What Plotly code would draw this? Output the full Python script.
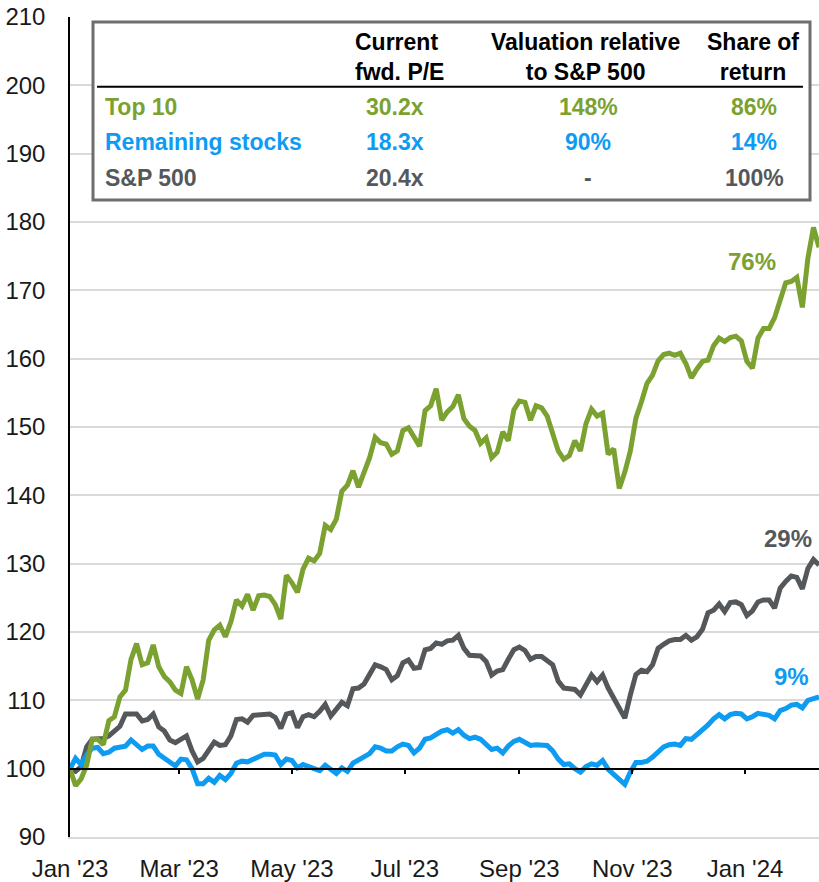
import pandas as pd
import plotly.graph_objects as go

# ---------------- data ----------------
start_date = "2023-01-01"
end_date = "2024-02-10"
dates = pd.date_range(start_date, periods=136, freq="3D")

top10 = [100.0, 97.5, 98.5, 100.5, 104.3, 104.3, 103.5, 107.0, 107.6, 110.5,
         111.5, 116.0, 118.3, 115.2, 115.5, 118.1, 114.9, 113.5, 112.7, 111.5,
         111.0, 114.9, 113.0, 110.2, 113.0, 118.8, 120.3, 121.0, 119.3, 121.5,
         124.7, 123.8, 125.5, 123.2, 125.3, 125.4, 125.2, 124.0, 121.9, 128.3,
         127.2, 125.8, 129.2, 130.8, 130.4, 131.5, 135.6, 135.0, 136.5, 140.6,
         141.5, 143.6, 141.2, 143.3, 145.5, 148.5, 147.7, 147.5, 146.0, 146.5,
         149.5, 149.9, 148.7, 147.2, 152.4, 153.1, 155.6, 151.0, 152.2, 153.0,
         154.7, 151.2, 150.1, 149.5, 147.6, 148.4, 145.5, 146.3, 149.3, 148.0,
         152.5, 153.8, 153.6, 151.0, 153.1, 152.8, 151.6, 149.0, 146.5, 145.3,
         145.8, 148.0, 146.5, 150.5, 152.6, 151.6, 152.0, 146.0, 146.8, 141.0,
         143.4, 146.5, 151.3, 153.7, 156.4, 157.6, 159.7, 160.6, 160.8, 160.5,
         160.8, 159.3, 157.2, 158.5, 159.6, 159.8, 161.9, 163.0, 162.5, 163.1,
         163.3, 162.6, 159.6, 158.6, 163.0, 164.4, 164.4, 166.0, 168.5, 171.1,
         171.3, 171.9, 167.5, 174.7, 179.2, 176.3]

remaining = [100.0, 101.5, 100.6, 102.0, 103.0, 103.1, 102.2, 102.4, 103.0, 103.1,
             103.3, 104.2, 103.6, 102.8, 103.3, 103.3, 102.1, 101.6, 100.9, 100.4,
             101.4, 101.3, 100.0, 97.8, 97.8, 98.6, 98.0, 99.0, 98.4, 99.3,
             100.8, 101.1, 101.0, 101.4, 101.8, 102.1, 102.1, 102.0, 100.6, 101.4,
             101.2, 100.1, 100.6, 100.3, 99.9, 99.7, 100.5, 99.9, 99.3, 100.1,
             99.6, 100.8, 101.3, 101.7, 102.2, 103.2, 103.0, 102.6, 102.6, 103.2,
             103.6, 103.4, 102.3, 103.0, 104.3, 104.5, 105.0, 105.5, 105.7, 105.2,
             105.7, 104.9, 104.4, 104.6, 104.3, 103.6, 102.8, 103.0, 102.3, 103.3,
             104.0, 104.3, 103.8, 103.4, 103.5, 103.5, 103.4, 102.6, 101.4, 100.6,
             100.7, 100.0, 99.5, 100.3, 100.7, 100.5, 101.2, 99.9, 99.1, 98.5,
             97.7, 99.5, 100.9, 100.9, 101.1, 101.7, 102.5, 103.2, 103.5, 103.6,
             103.4, 104.4, 104.3, 105.0, 105.6, 106.4, 107.3, 107.9, 107.3, 107.9,
             108.1, 108.0, 107.3, 107.6, 108.1, 107.9, 107.8, 107.3, 108.5, 108.8,
             109.3, 109.4, 108.9, 110.0, 110.3, 110.5]

sp500 = [100.0, 99.6, 100.3, 103.2, 104.3, 104.3, 104.4, 104.8, 105.4, 106.2,
         108.0, 108.0, 108.0, 107.0, 107.2, 108.0, 106.1, 105.5, 104.2, 103.8,
         104.2, 104.8, 102.6, 101.0, 101.5, 102.8, 103.9, 103.4, 103.5, 104.8,
         107.2, 107.3, 106.8, 107.8, 107.9, 108.0, 108.0, 107.5, 105.9, 108.0,
         108.2, 106.0, 107.6, 107.9, 107.6, 108.4, 109.4, 107.7, 108.7, 109.7,
         109.2, 111.7, 111.8, 112.4, 113.8, 115.2, 114.9, 114.5, 113.0, 113.6,
         115.5, 115.9, 114.7, 114.8, 117.4, 117.6, 118.4, 118.2, 118.7, 118.8,
         119.5, 117.6, 116.6, 116.5, 116.5, 115.7, 113.7, 114.3, 114.5, 116.0,
         117.4, 117.8, 117.3, 116.0, 116.4, 116.4, 115.9, 115.2, 112.8, 111.8,
         111.7, 111.6, 110.8, 112.3, 113.7, 112.7, 113.7, 111.8, 110.3, 108.8,
         107.4, 110.8, 113.8, 114.4, 114.2, 115.2, 117.6, 118.2, 118.7, 118.9,
         118.9, 119.5, 118.8, 119.3, 120.4, 122.8, 123.2, 124.1, 123.0, 124.3,
         124.4, 124.0, 122.4, 123.1, 124.4, 124.7, 124.7, 123.5, 126.4, 127.4,
         128.2, 128.0, 126.3, 129.3, 130.6, 129.8]

tick_dates = ["2023-01-01", "2023-03-01", "2023-05-01", "2023-07-01",
              "2023-09-01", "2023-11-01", "2024-01-01"]
tick_labels = ["Jan '23", "Mar '23", "May '23", "Jul '23", "Sep '23", "Nov '23", "Jan '24"]

series_names = ["Top 10", "Remaining stocks", "S&P 500"]
end_labels = ["76%", "9%", "29%"]
col_headers = ["Current<br>fwd. P/E", "Valuation relative<br>to S&P 500", "Share of<br>return"]
fwd_pe = ["30.2x", "18.3x", "20.4x"]
rel_val = ["148%", "90%", "-"]
share_ret = ["86%", "14%", "100%"]

GREEN = "#7BA230"
BLUE = "#0E9CF2"
GRAY = "#55585B"
colors = [GREEN, BLUE, GRAY]

# ---------------- geometry (page pixels) ----------------
W, H = 819, 882
PLOT_L, PLOT_R, PLOT_T, PLOT_B = 70, 819, 17, 841
L, R, T, B = PLOT_L, W - PLOT_R, PLOT_T, H - PLOT_B
PW, PH = PLOT_R - PLOT_L, PLOT_B - PLOT_T


def px(x):
    return (x - PLOT_L) / PW


def py(y):
    return (PLOT_B - y) / PH


FONT = "Liberation Sans, Arial, sans-serif"
TFS = 23  # table font size

fig = go.Figure()
fig.add_trace(go.Scatter(x=dates, y=sp500, mode="lines", name=series_names[2],
                         line=dict(color=GRAY, width=5), showlegend=False))
fig.add_trace(go.Scatter(x=dates, y=remaining, mode="lines", name=series_names[1],
                         line=dict(color=BLUE, width=5), showlegend=False))
fig.add_trace(go.Scatter(x=dates, y=top10, mode="lines", name=series_names[0],
                         line=dict(color=GREEN, width=5), showlegend=False))
# helper trace so the baseline (100) axis renders
fig.add_trace(go.Scatter(x=[dates[0]], y=[None], xaxis="x2", yaxis="y",
                         showlegend=False, hoverinfo="skip"))

fig.update_layout(
    width=W, height=H,
    margin=dict(l=L, r=R, t=T, b=B),
    paper_bgcolor="white", plot_bgcolor="white",
    showlegend=False,
    font=dict(family=FONT, color="#1a1a1a"),
    xaxis=dict(type="date", range=[start_date, end_date],
               tickvals=tick_dates, ticktext=tick_labels,
               showgrid=False, zeroline=False,
               showline=True, linecolor="#D9D9D9", linewidth=1.5,
               ticks="", ticklabelstandoff=9,
               tickfont=dict(size=24, family=FONT, color="#1a1a1a")),
    xaxis2=dict(type="date", range=[start_date, end_date], overlaying="x",
                anchor="free", position=10 / 120, side="bottom",
                tickvals=tick_dates[1:], showticklabels=False,
                showgrid=False, zeroline=False,
                showline=True, linecolor="black", linewidth=1.5,
                ticks="outside", ticklen=5, tickwidth=1.5, tickcolor="black"),
    yaxis=dict(range=[90, 210], dtick=10, tick0=90,
               showgrid=True, gridcolor="#D9D9D9", gridwidth=1.5,
               zeroline=False, showline=True, linecolor="black", linewidth=1.5,
               ticks="", ticklabelstandoff=18,
               tickfont=dict(size=24, family=FONT, color="#1a1a1a")),
)

# ---------------- table box ----------------
fig.add_shape(type="rect", xref="paper", yref="paper",
              x0=px(93), x1=px(810), y0=py(201), y1=py(22),
              fillcolor="white", line=dict(color="#6E6E6E", width=3), layer="above")
fig.add_shape(type="line", xref="paper", yref="paper",
              x0=px(97), x1=px(803), y0=py(87), y1=py(87),
              line=dict(color="black", width=2), layer="above")

# headers
fig.add_annotation(xref="paper", yref="paper", x=px(353), y=py(57), text="<b>" + col_headers[0] + "</b>",
                   showarrow=False, xanchor="left", yanchor="middle", align="left",
                   font=dict(size=TFS, family=FONT, color="black"))
fig.add_annotation(xref="paper", yref="paper", x=px(585), y=py(57), text="<b>" + col_headers[1] + "</b>",
                   showarrow=False, xanchor="center", yanchor="middle", align="center",
                   font=dict(size=TFS, family=FONT, color="black"))
fig.add_annotation(xref="paper", yref="paper", x=px(753), y=py(57), text="<b>" + col_headers[2] + "</b>",
                   showarrow=False, xanchor="center", yanchor="middle", align="center",
                   font=dict(size=TFS, family=FONT, color="black"))

row_y = [107, 143, 179]
for i in range(3):
    c = colors[i]
    fig.add_annotation(xref="paper", yref="paper", x=px(103), y=py(row_y[i]),
                       text="<b>" + series_names[i] + "</b>", showarrow=False,
                       xanchor="left", yanchor="middle",
                       font=dict(size=TFS, family=FONT, color=c))
    for cx, txt in [(395, fwd_pe[i]), (588, rel_val[i]), (754, share_ret[i])]:
        fig.add_annotation(xref="paper", yref="paper", x=px(cx), y=py(row_y[i]),
                           text="<b>" + txt + "</b>", showarrow=False,
                           xanchor="center", yanchor="middle",
                           font=dict(size=TFS, family=FONT, color=c))

# end labels
label_pos = [(752, 263), (791, 680), (788, 541)]
for (lx, ly), txt, c in zip(label_pos, end_labels, colors):
    fig.add_annotation(xref="paper", yref="paper", x=px(lx), y=py(ly),
                       text="<b>" + txt + "</b>", showarrow=False,
                       xanchor="center", yanchor="middle",
                       font=dict(size=24, family=FONT, color=c))

fig.write_html(
    "out.html",
    config={"displayModeBar": False},
    post_script="document.body.style.margin='0';document.body.style.overflow='hidden';",
)
